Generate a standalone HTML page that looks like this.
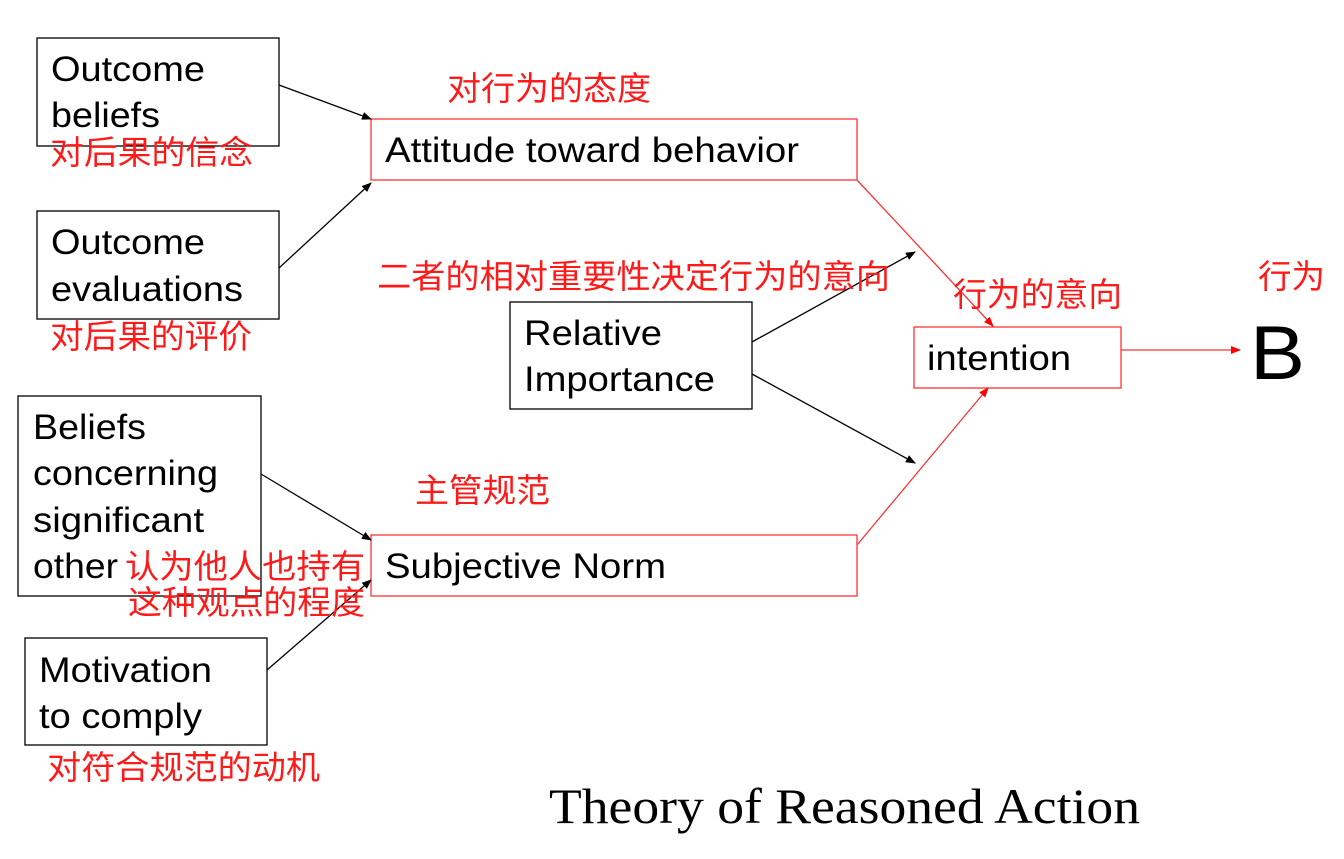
<!DOCTYPE html>
<html><head><meta charset="utf-8"><style>
body{margin:0;background:#fff;width:1344px;height:854px;overflow:hidden}
svg text{font-family:"Liberation Sans","Noto Sans CJK SC",sans-serif}
.en{font-size:35px;fill:#000}
.cn{font-size:33px;fill:#ff1a1a;font-family:"Liberation Sans","Noto Sans CJK SC",sans-serif}
</style></head><body>
<svg width="1344" height="854" xmlns="http://www.w3.org/2000/svg">
<defs>
<marker id="ab" markerWidth="10" markerHeight="8" refX="9" refY="4" orient="auto" markerUnits="userSpaceOnUse"><path d="M0,0 L10,4 L0,8 z" fill="#000"/></marker>
<marker id="ar" markerWidth="10" markerHeight="8" refX="9" refY="4" orient="auto" markerUnits="userSpaceOnUse"><path d="M0,0 L10,4 L0,8 z" fill="#f00"/></marker>
</defs>
<g fill="#fff" stroke="#000" stroke-width="1.3">
<rect x="37" y="38" width="242" height="108"/>
<rect x="37" y="211" width="242" height="108"/>
<rect x="18" y="396" width="243" height="200"/>
<rect x="25" y="638" width="242" height="107"/>
<rect x="510" y="302" width="242" height="107"/>
</g>
<g fill="#fff" stroke="#f33" stroke-width="1.3">
<rect x="371" y="119" width="486" height="61"/>
<rect x="371" y="535" width="486" height="61"/>
<rect x="914" y="327" width="207" height="61"/>
</g>
<g stroke="#000" stroke-width="1.3">
<line x1="279" y1="85" x2="371" y2="119" marker-end="url(#ab)"/>
<line x1="279" y1="268" x2="371" y2="183" marker-end="url(#ab)"/>
<line x1="261" y1="474" x2="371" y2="540" marker-end="url(#ab)"/>
<line x1="267" y1="670" x2="371" y2="580" marker-end="url(#ab)"/>
<line x1="752" y1="342" x2="915" y2="252" marker-end="url(#ab)"/>
<line x1="752" y1="374" x2="915" y2="463" marker-end="url(#ab)"/>
</g>
<g stroke="#f33" stroke-width="1.3">
<line x1="857" y1="180" x2="993" y2="326" marker-end="url(#ar)"/>
<line x1="857" y1="545" x2="988" y2="388" marker-end="url(#ar)"/>
<line x1="1121" y1="350" x2="1240" y2="350" marker-end="url(#ar)"/>
</g>
<g lengthAdjust="spacingAndGlyphs">
<text class="en" x="51" y="81" textLength="154" lengthAdjust="spacingAndGlyphs">Outcome</text>
<text class="en" x="51" y="127" textLength="109" lengthAdjust="spacingAndGlyphs">beliefs</text>
<text class="en" x="51" y="254" textLength="154" lengthAdjust="spacingAndGlyphs">Outcome</text>
<text class="en" x="51" y="301" textLength="192" lengthAdjust="spacingAndGlyphs">evaluations</text>
<text class="en" x="33" y="439" textLength="113" lengthAdjust="spacingAndGlyphs">Beliefs</text>
<text class="en" x="33" y="485" textLength="185" lengthAdjust="spacingAndGlyphs">concerning</text>
<text class="en" x="33" y="532" textLength="171" lengthAdjust="spacingAndGlyphs">significant</text>
<text class="en" x="33" y="578" textLength="85" lengthAdjust="spacingAndGlyphs">other</text>
<text class="en" x="39" y="682" textLength="173" lengthAdjust="spacingAndGlyphs">Motivation</text>
<text class="en" x="39" y="728" textLength="163" lengthAdjust="spacingAndGlyphs">to comply</text>
<text class="en" x="385" y="162" textLength="414" lengthAdjust="spacingAndGlyphs">Attitude toward behavior</text>
<text class="en" x="524" y="345" textLength="138" lengthAdjust="spacingAndGlyphs">Relative</text>
<text class="en" x="524" y="391" textLength="191" lengthAdjust="spacingAndGlyphs">Importance</text>
<text class="en" x="385" y="578" textLength="281" lengthAdjust="spacingAndGlyphs">Subjective Norm</text>
<text class="en" x="927" y="370" textLength="144" lengthAdjust="spacingAndGlyphs">intention</text>
<text x="1250" y="379" style="font-size:76px;fill:#000" textLength="55" lengthAdjust="spacingAndGlyphs">B</text>
<text class="cn" x="50" y="164" textLength="203" lengthAdjust="spacingAndGlyphs">对后果的信念</text>
<text class="cn" x="50" y="348" textLength="202" lengthAdjust="spacingAndGlyphs">对后果的评价</text>
<text class="cn" x="125" y="578" textLength="240" lengthAdjust="spacingAndGlyphs">认为他人也持有</text>
<text class="cn" x="128" y="614" textLength="237" lengthAdjust="spacingAndGlyphs">这种观点的程度</text>
<text class="cn" x="47" y="779" textLength="273" lengthAdjust="spacingAndGlyphs">对符合规范的动机</text>
<text class="cn" x="447" y="100" textLength="204" lengthAdjust="spacingAndGlyphs">对行为的态度</text>
<text class="cn" x="377" y="288" textLength="513" lengthAdjust="spacingAndGlyphs">二者的相对重要性决定行为的意向</text>
<text class="cn" x="415" y="502" textLength="135" lengthAdjust="spacingAndGlyphs">主管规范</text>
<text class="cn" x="953" y="306" textLength="169" lengthAdjust="spacingAndGlyphs">行为的意向</text>
<text class="cn" x="1258" y="288" textLength="67" lengthAdjust="spacingAndGlyphs">行为</text>
<text x="549" y="823" style="font-family:'Liberation Serif',serif;font-size:50px;fill:#000" textLength="591" lengthAdjust="spacingAndGlyphs">Theory of Reasoned Action</text>
</g>
</svg>
</body></html>
